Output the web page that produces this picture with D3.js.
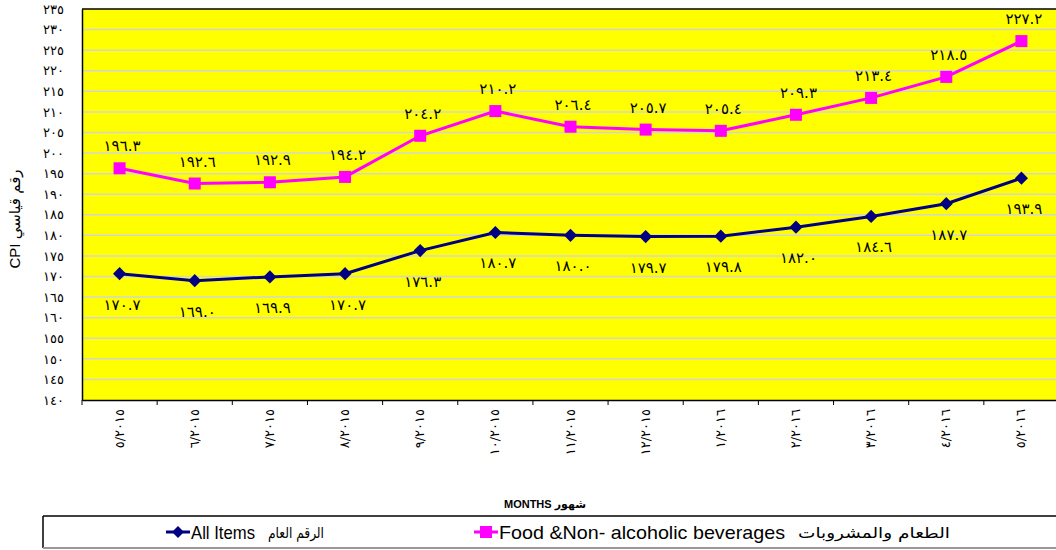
<!DOCTYPE html>
<html><head><meta charset="utf-8">
<script src="https://cdn.jsdelivr.net/npm/d3@7"></script>
<style>
html,body{margin:0;padding:0;background:#fff;}
svg{display:block;font-family:"Liberation Sans","DejaVu Sans",Arial,sans-serif;}
</style></head>
<body>
<svg id="c" width="1056" height="550"></svg>
<script>
const months = ["5/2015","6/2015","7/2015","8/2015","9/2015","10/2015","11/2015","12/2015","1/2016","2/2016","3/2016","4/2016","5/2016"];
const allItems = [170.7,169.0,169.9,170.7,176.3,180.7,180.0,179.7,179.8,182.0,184.6,187.7,193.9];
const food = [196.3,192.6,192.9,194.2,204.2,210.2,206.4,205.7,205.4,209.3,213.4,218.5,227.2];
const yTicks = d3.range(140, 236, 5);
const seriesNames = {all:"All Items", food:"Food &Non- alcoholic beverages"};
const seriesNamesAr = {all:"الرقم العام", food:"الطعام والمشروبات"};

const ar = s => String(s).replace(/[0-9]/g, d => "٠١٢٣٤٥٦٧٨٩"[+d]);

const svg = d3.select("#c");
const L = 82, R = 1059, T = 9, B = 400;
const x = d3.scaleBand().domain(months).range([L, R]);
const y = d3.scaleLinear().domain([140, 235]).range([B, T]);

svg.append("rect").attr("x", L).attr("y", T).attr("width", R - L).attr("height", B - T).attr("fill", "#ffff00");
svg.append("g").selectAll("line").data(yTicks.filter(v => v > 140 && v < 235)).join("line")
  .attr("x1", L).attr("x2", R).attr("y1", d => y(d)).attr("y2", d => y(d))
  .attr("stroke", "#d4d4d4").attr("stroke-width", 1.5);
svg.append("line").attr("x1", L).attr("x2", R).attr("y1", T).attr("y2", T).attr("stroke", "#000").attr("stroke-width", 1.5);

// y axis
const yAxis = d3.axisLeft(y).tickValues(yTicks).tickFormat(d => ar(d)).tickSize(0).tickPadding(18);
const gy = svg.append("g").attr("transform", `translate(${L},0)`).call(yAxis);
gy.select(".domain").attr("stroke", "#000").attr("stroke-width", 1.5);
gy.selectAll("text").attr("font-size", 13).attr("font-family", "DejaVu Sans").attr("letter-spacing", 2.5).attr("fill", "#000");

// x axis
const xAxis = d3.axisBottom(x).tickSize(0).tickFormat(d => ar(d));
const gx = svg.append("g").attr("transform", `translate(0,${B})`).call(xAxis);
gx.select(".domain").attr("stroke", "#000").attr("stroke-width", 1.5);
gx.selectAll(".tick text").attr("font-size", 13).attr("font-family", "DejaVu Sans")
  .attr("letter-spacing", 3.5)
  .attr("text-anchor", "end").attr("transform", "translate(4,9) rotate(-90)")
  .attr("dy", 0).attr("y", 0).attr("x", 0).attr("fill", "#000");
svg.append("g").selectAll("line").data(months.concat(["end"])).join("line")
  .attr("x1", (d, i) => L + i * x.step()).attr("x2", (d, i) => L + i * x.step())
  .attr("y1", B).attr("y2", B + 5).attr("stroke", "#000").attr("stroke-width", 1);

const cx = d => x(d) + x.bandwidth() / 2;

const line = d3.line().x((d, i) => cx(months[i])).y(d => y(d));
svg.append("path").datum(food).attr("d", line).attr("fill", "none").attr("stroke", "#ff00ff").attr("stroke-width", 3);
svg.append("path").datum(allItems).attr("d", line).attr("fill", "none").attr("stroke", "#000080").attr("stroke-width", 3);

svg.append("g").selectAll("rect").data(food).join("rect")
  .attr("x", (d, i) => cx(months[i]) - 6).attr("y", d => y(d) - 6)
  .attr("width", 12).attr("height", 12).attr("fill", "#ff00ff");
const diamond = d3.symbol().type(d3.symbolDiamond2).size(110);
svg.append("g").selectAll("path").data(allItems).join("path")
  .attr("transform", (d, i) => `translate(${cx(months[i])},${y(d)})`)
  .attr("d", diamond).attr("fill", "#000080");

// data labels
const fmt = v => ar(v.toFixed(1));
const LS = 5;
svg.append("g").selectAll("text").data(food).join("text")
  .attr("x", (d, i) => cx(months[i]) + LS / 2).attr("y", d => y(d) - 17)
  .attr("text-anchor", "middle").attr("font-size", 15).attr("font-family", "DejaVu Sans")
  .attr("letter-spacing", LS).attr("fill", "#000").text(fmt);
svg.append("g").selectAll("text").data(allItems).join("text")
  .attr("x", (d, i) => cx(months[i]) + LS / 2).attr("y", d => y(d) + 36)
  .attr("text-anchor", "middle").attr("font-size", 15).attr("font-family", "DejaVu Sans")
  .attr("letter-spacing", LS).attr("fill", "#000").text(fmt);

// y title
svg.append("text").attr("transform", "translate(20,219) rotate(-90)")
  .attr("text-anchor", "middle").attr("font-size", 15).attr("fill", "#000")
  .text("CPI      رقم قياسي");

// x title
svg.append("text").attr("x", 545).attr("y", 508).attr("text-anchor", "middle")
  .attr("font-size", 11).attr("font-weight", "bold").attr("fill", "#000")
  .text("MONTHS   شهور");

// legend box
svg.append("line").attr("x1", 43).attr("x2", 1056).attr("y1", 516).attr("y2", 516).attr("stroke", "#000").attr("stroke-width", 1.5);
svg.append("line").attr("x1", 43).attr("x2", 43).attr("y1", 516).attr("y2", 548).attr("stroke", "#000").attr("stroke-width", 1.5);
svg.append("line").attr("x1", 43).attr("x2", 1056).attr("y1", 548).attr("y2", 548).attr("stroke", "#999").attr("stroke-width", 2);

const legendItems = [
  {key:"all", color:"#000080", x:166, sym:"diamond", enW:64, arX:268, arW:56},
  {key:"food", color:"#ff00ff", x:474, sym:"square", enW:286, arX:798, arW:152}
];
const lg = svg.append("g").selectAll("g").data(legendItems).join("g")
  .attr("transform", d => `translate(${d.x},532)`);
lg.append("line").attr("x1", 0).attr("x2", 24).attr("stroke", d => d.color).attr("stroke-width", 3);
lg.filter(d => d.sym === "square").append("rect").attr("x", 6).attr("y", -6).attr("width", 12).attr("height", 12).attr("fill", d => d.color);
lg.filter(d => d.sym === "diamond").append("path").attr("transform", "translate(12,0)").attr("d", d3.symbol().type(d3.symbolDiamond2).size(90)).attr("fill", d => d.color);
lg.append("text").attr("x", 25).attr("y", 7).attr("font-size", 19).attr("fill", "#000")
  .attr("textLength", d => d.enW).attr("lengthAdjust", "spacingAndGlyphs")
  .text(d => seriesNames[d.key]);
lg.append("text").attr("x", d => d.arX - d.x).attr("y", 6).attr("font-size", 15).attr("fill", "#000")
  .attr("font-family", "DejaVu Sans")
  .attr("textLength", d => d.arW).attr("lengthAdjust", "spacingAndGlyphs")
  .text(d => seriesNamesAr[d.key]);
</script>
</body></html>
